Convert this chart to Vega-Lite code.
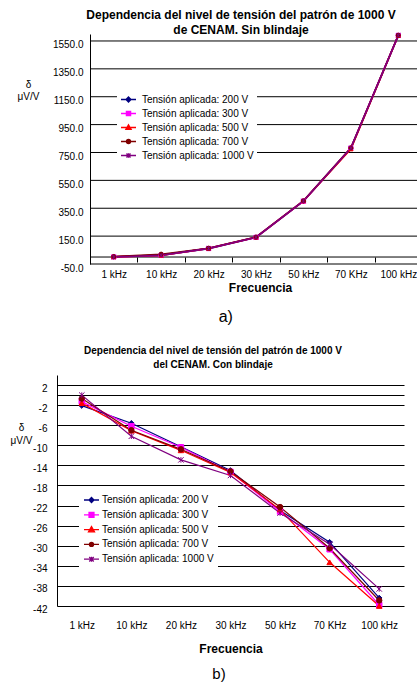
{
  "$schema": "https://vega.github.io/schema/vega-lite/v6.json",
  "background": "white",
  "padding": {"left": 10, "top": 8, "right": 0, "bottom": 0},
  "config": {
    "font": "Liberation Sans",
    "view": {"stroke": null},
    "title": {"color": "#000"},
    "axis": {"labelColor": "#000", "titleColor": "#000"},
    "legend": {"labelColor": "#000"}
  },
  "datasets": {
    "gridA": [{"d": -50}, {"d": 0}, {"d": 150}, {"d": 350}, {"d": 550}, {"d": 750}, {"d": 950}, {"d": 1150}, {"d": 1350}, {"d": 1550}],
    "sin": [
      {"f": "1 kHz", "s": "Tensión aplicada: 200 V", "d": 2},
      {"f": "10 kHz", "s": "Tensión aplicada: 200 V", "d": 14},
      {"f": "20 kHz", "s": "Tensión aplicada: 200 V", "d": 60},
      {"f": "30 kHz", "s": "Tensión aplicada: 200 V", "d": 140},
      {"f": "50 kHz", "s": "Tensión aplicada: 200 V", "d": 400},
      {"f": "70 KHz", "s": "Tensión aplicada: 200 V", "d": 780},
      {"f": "100 kHz", "s": "Tensión aplicada: 200 V", "d": 1588},
      {"f": "1 kHz", "s": "Tensión aplicada: 300 V", "d": 1},
      {"f": "10 kHz", "s": "Tensión aplicada: 300 V", "d": 13},
      {"f": "20 kHz", "s": "Tensión aplicada: 300 V", "d": 61},
      {"f": "30 kHz", "s": "Tensión aplicada: 300 V", "d": 141},
      {"f": "50 kHz", "s": "Tensión aplicada: 300 V", "d": 401},
      {"f": "70 KHz", "s": "Tensión aplicada: 300 V", "d": 781},
      {"f": "100 kHz", "s": "Tensión aplicada: 300 V", "d": 1590},
      {"f": "1 kHz", "s": "Tensión aplicada: 500 V", "d": 1},
      {"f": "10 kHz", "s": "Tensión aplicada: 500 V", "d": 12},
      {"f": "20 kHz", "s": "Tensión aplicada: 500 V", "d": 62},
      {"f": "30 kHz", "s": "Tensión aplicada: 500 V", "d": 142},
      {"f": "50 kHz", "s": "Tensión aplicada: 500 V", "d": 402},
      {"f": "70 KHz", "s": "Tensión aplicada: 500 V", "d": 775},
      {"f": "100 kHz", "s": "Tensión aplicada: 500 V", "d": 1589},
      {"f": "1 kHz", "s": "Tensión aplicada: 700 V", "d": 3},
      {"f": "10 kHz", "s": "Tensión aplicada: 700 V", "d": 20},
      {"f": "20 kHz", "s": "Tensión aplicada: 700 V", "d": 63},
      {"f": "30 kHz", "s": "Tensión aplicada: 700 V", "d": 143},
      {"f": "50 kHz", "s": "Tensión aplicada: 700 V", "d": 403},
      {"f": "70 KHz", "s": "Tensión aplicada: 700 V", "d": 783},
      {"f": "100 kHz", "s": "Tensión aplicada: 700 V", "d": 1591},
      {"f": "1 kHz", "s": "Tensión aplicada: 1000 V", "d": 0},
      {"f": "10 kHz", "s": "Tensión aplicada: 1000 V", "d": 12},
      {"f": "20 kHz", "s": "Tensión aplicada: 1000 V", "d": 62},
      {"f": "30 kHz", "s": "Tensión aplicada: 1000 V", "d": 142},
      {"f": "50 kHz", "s": "Tensión aplicada: 1000 V", "d": 402},
      {"f": "70 KHz", "s": "Tensión aplicada: 1000 V", "d": 782},
      {"f": "100 kHz", "s": "Tensión aplicada: 1000 V", "d": 1590}
    ],
    "con": [
      {"f": "1 kHz", "s": "Tensión aplicada: 200 V", "d": -2.1},
      {"f": "10 kHz", "s": "Tensión aplicada: 200 V", "d": -5.6},
      {"f": "20 kHz", "s": "Tensión aplicada: 200 V", "d": -10.3},
      {"f": "30 kHz", "s": "Tensión aplicada: 200 V", "d": -15.0},
      {"f": "50 kHz", "s": "Tensión aplicada: 200 V", "d": -23.0},
      {"f": "70 KHz", "s": "Tensión aplicada: 200 V", "d": -29.3},
      {"f": "100 kHz", "s": "Tensión aplicada: 200 V", "d": -40.4},
      {"f": "1 kHz", "s": "Tensión aplicada: 300 V", "d": -1.3},
      {"f": "10 kHz", "s": "Tensión aplicada: 300 V", "d": -6.2},
      {"f": "20 kHz", "s": "Tensión aplicada: 300 V", "d": -10.4},
      {"f": "30 kHz", "s": "Tensión aplicada: 300 V", "d": -15.3},
      {"f": "50 kHz", "s": "Tensión aplicada: 300 V", "d": -23.2},
      {"f": "70 KHz", "s": "Tensión aplicada: 300 V", "d": -30.7},
      {"f": "100 kHz", "s": "Tensión aplicada: 300 V", "d": -41.8},
      {"f": "1 kHz", "s": "Tensión aplicada: 500 V", "d": -1.6},
      {"f": "10 kHz", "s": "Tensión aplicada: 500 V", "d": -7.1},
      {"f": "20 kHz", "s": "Tensión aplicada: 500 V", "d": -11.0},
      {"f": "30 kHz", "s": "Tensión aplicada: 500 V", "d": -15.4},
      {"f": "50 kHz", "s": "Tensión aplicada: 500 V", "d": -22.8},
      {"f": "70 KHz", "s": "Tensión aplicada: 500 V", "d": -33.3},
      {"f": "100 kHz", "s": "Tensión aplicada: 500 V", "d": -42.0},
      {"f": "1 kHz", "s": "Tensión aplicada: 700 V", "d": -0.7},
      {"f": "10 kHz", "s": "Tensión aplicada: 700 V", "d": -7.0},
      {"f": "20 kHz", "s": "Tensión aplicada: 700 V", "d": -10.8},
      {"f": "30 kHz", "s": "Tensión aplicada: 700 V", "d": -15.2},
      {"f": "50 kHz", "s": "Tensión aplicada: 700 V", "d": -22.3},
      {"f": "70 KHz", "s": "Tensión aplicada: 700 V", "d": -30.5},
      {"f": "100 kHz", "s": "Tensión aplicada: 700 V", "d": -40.9},
      {"f": "1 kHz", "s": "Tensión aplicada: 1000 V", "d": 0.0},
      {"f": "10 kHz", "s": "Tensión aplicada: 1000 V", "d": -8.2},
      {"f": "20 kHz", "s": "Tensión aplicada: 1000 V", "d": -12.9},
      {"f": "30 kHz", "s": "Tensión aplicada: 1000 V", "d": -16.0},
      {"f": "50 kHz", "s": "Tensión aplicada: 1000 V", "d": -23.5},
      {"f": "70 KHz", "s": "Tensión aplicada: 1000 V", "d": -29.7},
      {"f": "100 kHz", "s": "Tensión aplicada: 1000 V", "d": -38.6}
    ]
  },
  "resolve": {"legend": {"color": "independent"}},
  "spacing": 21,
  "vconcat": [
    {
      "title": {"text": "a)", "orient": "bottom", "fontSize": 16, "fontWeight": "normal", "offset": 16, "anchor": "middle", "dx": 6},
      "vconcat": [
        {
          "width": 360,
          "height": 230,
          "title": {"text": ["Dependencia del nivel de tensión del patrón de 1000 V", "de CENAM. Sin blindaje"], "fontSize": 12, "fontWeight": "bold", "lineHeight": 15, "offset": -5.5, "frame": "group", "anchor": "middle", "dx": 4},
          "layer": [
            {
              "data": {"name": "gridA"},
              "mark": {"type": "rule", "color": "#000", "strokeWidth": 1},
              "encoding": {
                "y": {"field": "d", "type": "quantitative"},
                "x": {"datum": "1 kHz", "bandPosition": 0},
                "x2": {"value": "width"}
              }
            },
            {
              "data": {"name": "sin"},
              "mark": {"type": "line", "strokeWidth": 1.6},
              "encoding": {
                "x": {"field": "f", "type": "nominal", "bandPosition": 0.5,
                  "scale": {"type": "band", "domain": ["1 kHz", "10 kHz", "20 kHz", "30 kHz", "50 kHz", "70 KHz", "100 kHz"], "range": [33, 365], "paddingInner": 0, "paddingOuter": 0},
                  "axis": {"tickBand": "extent", "domain": false, "ticks": true, "tickSize": 5, "tickColor": "#000", "tickWidth": 1, "offset": -7, "labelPadding": 12.5, "labelFontSize": 10, "labelAngle": 0, "labelAlign": "center", "labelFlush": false, "labelOverlap": false, "title": "Frecuencia", "titleFontSize": 12, "titleFontWeight": "bold", "titleX": 203, "titleY": 34, "titleBaseline": "alphabetic", "grid": false}},
                "y": {"field": "d", "type": "quantitative",
                  "scale": {"domain": [-50, 1600], "nice": false, "zero": false},
                  "axis": {"values": [-50, 150, 350, 550, 750, 950, 1150, 1350, 1550], "tickCount": 30, "labelExpr": "(datum.value < 0 ? '-' : '') + format(abs(datum.value), '.1f')", "labelOverlap": false, "grid": false, "ticks": false, "tickSize": 0, "domain": true, "domainColor": "#000", "offset": -33, "labelPadding": 7, "labelOffset": 4, "labelFontSize": 10, "title": ["δ", "μV/V"], "titleAngle": 0, "titleX": -62, "titleY": 53, "titleAlign": "center", "titleBaseline": "alphabetic", "titleFontWeight": "normal", "titleFontSize": 10, "titleLineHeight": 12}},
                "color": {"field": "s", "type": "nominal",
                  "scale": {"domain": ["Tensión aplicada: 200 V", "Tensión aplicada: 300 V", "Tensión aplicada: 500 V", "Tensión aplicada: 700 V", "Tensión aplicada: 1000 V"], "range": ["#000080", "#FF00FF", "#FF0000", "#800000", "#800080"]},
                  "legend": {"title": null, "orient": "none", "legendX": 60, "legendY": 54, "fillColor": "white", "padding": 3, "symbolSize": 225, "labelFontSize": 10, "labelOffset": 5, "rowPadding": 0,
                    "encode": {"symbols": {"update": {
                      "shape": {"signal": "['M-1,0L1,0M0,-0.33L0.33,0L0,0.33L-0.33,0Z','M-1,0L1,0M-0.28,-0.28L0.28,-0.28L0.28,0.28L-0.28,0.28Z','M-1,0L1,0M0,-0.35L0.35,0.25L-0.35,0.25Z','M-1,0L1,0M0.27,0A0.27,0.27,0,1,1,-0.27,0A0.27,0.27,0,1,1,0.27,0Z','M-1,0L1,0M-0.27,-0.27L0.27,0.27M-0.27,0.27L0.27,-0.27M0,-0.3L0,0.3'][indexof(['Tensión aplicada: 200 V','Tensión aplicada: 300 V','Tensión aplicada: 500 V','Tensión aplicada: 700 V','Tensión aplicada: 1000 V'], datum.value)]"},
                      "stroke": {"scale": "color", "field": "value"},
                      "fill": {"scale": "color", "field": "value"},
                      "strokeWidth": {"value": 1.3},
                      "opacity": {"value": 1}
                    }}}}}
              }
            },
            {
              "data": {"name": "sin"},
              "mark": {"type": "point", "filled": true, "size": 18, "opacity": 1, "strokeWidth": 1},
              "encoding": {
                "x": {"field": "f", "type": "nominal", "bandPosition": 0.5},
                "y": {"field": "d", "type": "quantitative"},
                "color": {"field": "s", "type": "nominal"},
                "stroke": {"field": "s", "type": "nominal", "legend": null,
                  "scale": {"domain": ["Tensión aplicada: 200 V", "Tensión aplicada: 300 V", "Tensión aplicada: 500 V", "Tensión aplicada: 700 V", "Tensión aplicada: 1000 V"], "range": ["#000080", "#FF00FF", "#FF0000", "#800000", "#800080"]}},
                "shape": {"field": "s", "type": "nominal", "legend": null,
                  "scale": {"domain": ["Tensión aplicada: 200 V", "Tensión aplicada: 300 V", "Tensión aplicada: 500 V", "Tensión aplicada: 700 V", "Tensión aplicada: 1000 V"], "range": ["diamond", "square", "triangle-up", "circle", "M-1,-1L1,1M-1,1L1,-1M0,-1L0,1"]}}
              }
            }
          ]
        }
      ]
    },
    {
      "title": {"text": "b)", "orient": "bottom", "fontSize": 15, "fontWeight": "normal", "offset": 13, "anchor": "middle", "dx": 12},
      "vconcat": [
        {
          "width": 347,
          "height": 231,
          "title": {"text": ["Dependencia del nivel de tensión del patrón de 1000 V", "del CENAM. Con blindaje"], "fontSize": 10, "fontWeight": "bold", "lineHeight": 14, "offset": 5, "frame": "group", "anchor": "middle", "dx": -17.5},
          "layer": [
            {
              "data": {"name": "con"},
              "mark": {"type": "line", "strokeWidth": 1.2},
              "encoding": {
                "x": {"field": "f", "type": "nominal",
                  "scale": {"domain": ["1 kHz", "10 kHz", "20 kHz", "30 kHz", "50 kHz", "70 KHz", "100 kHz"]},
                  "axis": {"domain": false, "ticks": false, "tickSize": 0, "labelPadding": 14, "labelFontSize": 10, "labelAngle": 0, "labelOverlap": false, "title": "Frecuencia", "titleFontSize": 12, "titleFontWeight": "bold", "titleY": 46, "titleBaseline": "alphabetic", "grid": false}},
                "y": {"field": "d", "type": "quantitative",
                  "scale": {"domain": [-42, 4], "nice": false, "zero": false},
                  "axis": {"values": [2, 0, -2, -6, -10, -14, -18, -22, -26, -30, -34, -38, -42], "tickCount": 30, "labelExpr": "datum.value == 0 ? '' : (datum.value < 0 ? '-' : '') + abs(datum.value)", "labelOverlap": false, "grid": true, "gridColor": "#000", "gridOpacity": 1, "ticks": false, "tickSize": 0, "domain": true, "domainColor": "#000", "labelPadding": 10, "labelOffset": 3, "labelFontSize": 10, "title": ["δ", "μV/V"], "titleAngle": 0, "titleX": -36, "titleY": 55, "titleAlign": "center", "titleBaseline": "alphabetic", "titleFontWeight": "normal", "titleFontSize": 10, "titleLineHeight": 13}},
                "color": {"field": "s", "type": "nominal",
                  "scale": {"domain": ["Tensión aplicada: 200 V", "Tensión aplicada: 300 V", "Tensión aplicada: 500 V", "Tensión aplicada: 700 V", "Tensión aplicada: 1000 V"], "range": ["#000080", "#FF00FF", "#FF0000", "#800000", "#800080"]},
                  "legend": {"title": null, "orient": "none", "legendX": 22, "legendY": 112.5, "fillColor": "white", "padding": 4, "symbolSize": 225, "labelFontSize": 10, "labelOffset": 2, "rowPadding": 0.8,
                    "encode": {"symbols": {"update": {
                      "shape": {"signal": "['M-1,0L1,0M0,-0.33L0.33,0L0,0.33L-0.33,0Z','M-1,0L1,0M-0.33,-0.33L0.33,-0.33L0.33,0.33L-0.33,0.33Z','M-1,0L1,0M0,-0.4L0.4,0.3L-0.4,0.3Z','M-1,0L1,0M0.27,0A0.27,0.27,0,1,1,-0.27,0A0.27,0.27,0,1,1,0.27,0Z','M-1,0L1,0M-0.3,-0.3L0.3,0.3M-0.3,0.3L0.3,-0.3M0,-0.33L0,0.33'][indexof(['Tensión aplicada: 200 V','Tensión aplicada: 300 V','Tensión aplicada: 500 V','Tensión aplicada: 700 V','Tensión aplicada: 1000 V'], datum.value)]"},
                      "stroke": {"scale": "color", "field": "value"},
                      "fill": {"scale": "color", "field": "value"},
                      "strokeWidth": {"value": 1.3},
                      "opacity": {"value": 1}
                    }}}}}
              }
            },
            {
              "data": {"name": "con"},
              "mark": {"type": "point", "filled": true, "size": 30, "opacity": 1, "strokeWidth": 1},
              "encoding": {
                "x": {"field": "f", "type": "nominal"},
                "y": {"field": "d", "type": "quantitative"},
                "color": {"field": "s", "type": "nominal"},
                "stroke": {"field": "s", "type": "nominal", "legend": null},
                "shape": {"field": "s", "type": "nominal", "legend": null}
              }
            }
          ]
        }
      ]
    }
  ]
}
